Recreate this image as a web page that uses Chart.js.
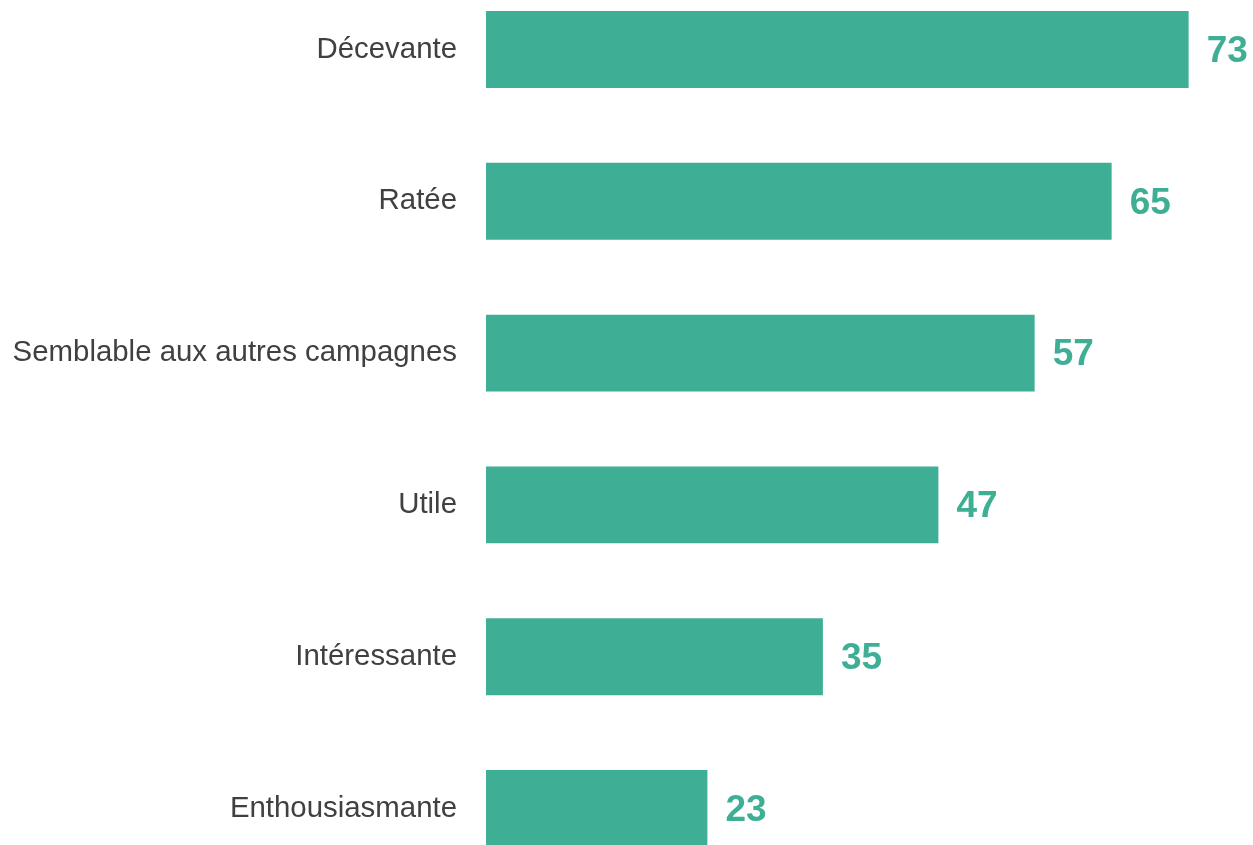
<!DOCTYPE html>
<html>
<head>
<meta charset="utf-8">
<script src="https://cdn.jsdelivr.net/npm/chart.js@4"></script>
<style>
  html, body { margin: 0; padding: 0; background: #fff; overflow: hidden; }
  #chart { position: absolute; left: 0; top: -73px; }
</style>
</head>
<body>
<canvas id="chart" width="1256" height="1004"></canvas>
<script>
const categories = ['Décevante', 'Ratée', 'Semblable aux autres campagnes', 'Utile', 'Intéressante', 'Enthousiasmante'];
const values = [73, 65, 57, 47, 35, 23];

const barColor = '#3eae94';

const valueLabels = {
    id: 'valueLabels',
    afterDatasetsDraw(chart) {
        const ctx = chart.ctx;
        const meta = chart.getDatasetMeta(0);
        ctx.save();
        ctx.font = 'bold 37px "Liberation Sans", Arial, sans-serif';
        ctx.fillStyle = barColor;
        ctx.textAlign = 'left';
        ctx.textBaseline = 'middle';
        meta.data.forEach((bar, i) => {
            ctx.fillText(String(values[i]), bar.x + 18, bar.y + 2);
        });
        ctx.restore();
    }
};

new Chart(document.getElementById('chart').getContext('2d'), {
    type: 'bar',
    data: {
        labels: categories,
        datasets: [{
            data: values,
            backgroundColor: barColor,
            borderWidth: 0,
            categoryPercentage: 1,
            barPercentage: 0.507
        }]
    },
    options: {
        indexAxis: 'y',
        responsive: false,
        animation: false,
        layout: { padding: 0 },
        plugins: {
            legend: { display: false },
            tooltip: { enabled: false }
        },
        scales: {
            x: {
                min: 0,
                max: 80,
                display: false
            },
            y: {
                grid: { display: false, drawTicks: false },
                border: { display: false },
                ticks: {
                    color: '#404040',
                    padding: 29,
                    font: { family: '"Liberation Sans", Arial, sans-serif', size: 29.4 }
                },
                afterFit(scale) { scale.width = 486; }
            }
        }
    },
    plugins: [valueLabels]
});
</script>
</body>
</html>
